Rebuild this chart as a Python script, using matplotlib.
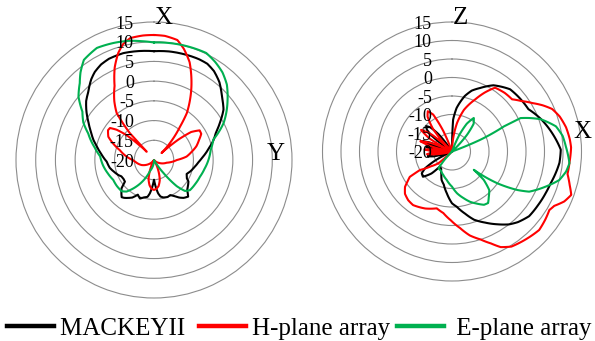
import numpy as np
import matplotlib.pyplot as plt

plt.rcParams['font.family'] = 'Liberation Serif'

# ---- left plot: X-Y plane (angle in deg, clockwise from X) ----
xy_black_ang = [0, 8, 16, 24, 29, 34, 40, 45, 50, 54, 60, 66, 72, 78, 85, 92, 100, 107, 113, 119,
                122, 127, 132, 137, 142, 146, 150, 155, 160, 166, 170, 173, 176, 180,
                184, 187, 190, 194, 200, 205, 210, 214, 218, 221, 225, 229, 233, 238, 243, 247,
                253, 260, 268, 275, 282, 288, 294, 300, 306, 311, 316, 322, 326, 331, 336, 344, 352, 360]
xy_black_db = [7.6, 7.8, 7.9, 8.0, 7.9, 7.2, 5.8, 4.2, 2.8, 1.8, -0.6, -2.8, -4.2, -5.8, -7.3, -8.6, -9.6, -10.3, -11.0, -10.5,
               -9.7, -9.2, -8.7, -7.3, -7.8, -8.5, -9.4, -10.2, -10.0, -10.2, -10.6, -11.5, -13.0, -15.0,
               -13.0, -11.5, -10.5, -10.3, -9.6, -10.3, -9.0, -8.4, -7.8, -7.5, -8.3, -9.1, -10.8, -10.9, -10.8, -10.2,
               -9.5, -8.6, -8.0, -6.8, -5.4, -3.9, -2.5, -0.8, 1.2, 2.8, 4.0, 5.9, 6.9, 7.7, 8.1, 8.2, 7.9, 7.6]

xy_red_ang = [0, 5, 11, 15, 20, 27, 31, 35, 38, 42, 47, 50, 53, 57, 61, 66, 72, 78, 84, 90,
              102, 120, 140, 150, 158, 164, 170, 175, 180, 185, 190, 196, 202, 210, 215, 230, 248, 265,
              270, 278, 286, 292, 297, 303, 306, 309, 312, 315, 318.5, 318, 321.5, 326, 332, 337, 341.5,
              345, 349, 355, 360]
xy_red_db = [11.7, 11.6, 11.0, 9.2, 6.4, 0.9, -2.3, -5.5, -9.3, -13.0, -17.4, -12.0, -8.2, -6.2, -6.3, -7.5, -8.7, -10.3, -11.7, -14.2,
             -16.7, -18.5, -20, -20, -17.0, -14.7, -13.3, -12.7, -12.4, -12.7, -13.5, -15.0, -17.5, -20, -20, -18.5, -16.6, -15.2,
             -14.6, -12.8, -11.0, -8.8, -7.0, -6.1, -6.2, -7.8, -10.5, -14.5, -17.2, -10.9, -4.8, -2.0, 1.3, 5.5, 8.6,
             10.4, 11.5, 11.7, 11.7]

xy_green_ang = [0, 6, 13, 20, 26, 32, 38, 44, 51, 56, 62, 71, 80, 90, 100, 110, 120, 130, 135, 139,
                144, 150, 180, 200, 204, 210, 216, 221, 226, 235, 244, 254, 264, 274, 282, 292, 298, 304,
                310, 316, 320, 325, 333, 341, 348, 354, 360]
xy_green_db = [9.8, 9.9, 10.0, 10.1, 10.2, 9.3, 8.2, 6.6, 4.0, 2.2, 0.0, -4.1, -5.4, -6.2, -7.0, -7.6, -7.9, -8.1, -8.9, -11.2,
               -16.0, -20, -20, -17.0, -15.4, -13.2, -11.1, -9.4, -8.6, -8.5, -8.5, -7.8, -7.0, -6.3, -4.6, -2.0, 0.3, 1.9,
               5.0, 7.1, 9.0, 11.0, 11.9, 11.4, 10.9, 10.3, 9.8]

# ---- right plot: X-Z plane (angle in deg, clockwise from Z) ----
xz_black_ang = [0, 2, 6, 13, 18, 24, 32, 43, 52, 61, 70, 80, 89, 96, 102, 108, 114, 122, 130, 137,
                142, 148, 155, 162, 168, 175, 180, 187, 194, 200, 205, 212, 219, 223, 229, 234, 238, 242, 246,
                250, 255, 259, 263, 267, 273, 277, 280, 283, 285, 287, 289.5, 292, 295,
                303, 308, 311, 314.5, 318, 322, 327, 360]
xz_black_db = [-20, -11.4, -8.2, -4.6, -2.7, -1.2, 1.1, 3.0, 3.3, 3.6, 5.6, 7.6, 9.4, 9.2, 8.6, 8.0, 7.7, 7.4, 7.2, 6.1,
               5.0, 3.2, 1.2, -0.6, -2.8, -5.0, -6.0, -8.6, -10.8, -11.8, -13.2, -14.5, -14.8, -11.9, -9.6, -9.9, -11.4, -15.0, -20,
               -20, -15.0, -13.3, -15.0, -20, -20, -14.5, -12.9, -14.5, -20, -13.5, -11.6, -13.5, -20,
               -20, -13.0, -11.0, -10.2, -11.2, -14.0, -20, -20]

xz_red_ang = [0, 5, 10, 16, 24, 29, 34, 42, 49, 54, 59, 63, 67, 72, 78, 84, 88, 95, 101, 106,
              110, 114, 118, 121, 126, 132, 140, 148, 153, 157, 162, 168, 174, 181, 188, 195, 205, 216, 222, 228,
              233, 236, 239, 240, 235, 229, 226,
              254, 261, 264, 267, 269, 271, 274, 277, 280, 284, 288, 292, 296, 300, 305, 310, 314,
              320, 325, 329, 333, 337, 340, 360]
xz_red_db = [-20, -16.5, -12.2, -8.3, -4.6, -1.8, 0.8, 1.3, 1.5, 3.2, 5.4, 7.5, 9.4, 10.6, 11.5, 12.0, 12.2, 11.9, 11.8, 13.1,
             14.3, 13.2, 11.3, 10.7, 11.2, 11.7, 11.0, 10.3, 9.0, 7.0, 5.0, 3.2, 0.8, -1.4, -3.2, -4.1, -3.0, -2.1, -2.3, -2.9,
             -4.1, -5.5, -6.7, -10.0, -13.0, -15.2, -20,
             -20, -15.0, -13.2, -15.0, -20, -15.0, -12.6, -15.0, -20, -14.0, -11.0, -14.0, -20, -13.0, -9.8, -13.0, -20,
             -12.0, -8.5, -7.3, -8.8, -14.0, -20, -20]

xz_green_ang = [0, 20, 24, 28, 33, 38, 42, 47, 70, 67.5, 64.2, 64, 66.5, 70, 76.4, 82, 87.5, 95.7, 100, 104.9,
                111, 117.5, 120.5, 125, 130, 131.8, 136, 141, 145, 149, 155, 160, 166, 173, 180, 190.6,
                200, 210, 218.6, 222, 225, 360]
xz_green_db = [-20, -20, -15.0, -11.5, -9.2, -10.5, -14.0, -20, -20, -11.7, -4.4, 0.6, 2.7, 5.5, 8.9, 10.2, 10.8, 11.9, 11.3, 10.0,
               6.8, 3.5, 0.5, -5.0, -12.3, -8.5, -5.5, -4.2, -3.0, -3.2, -4.5, -5.5, -7.0, -8.6, -10.5, -12.2,
               -13.2, -14.0, -14.2, -17.0, -20, -20]

labels = ['MACKEYII ', 'H-plane array', ' E-plane array']
rticks = [15, 10, 5, 0, -5, -10, -15, -20]
grey = '#8c8c8c'


def setup(ax):
    ax.set_theta_zero_location('N')
    ax.set_theta_direction(-1)
    ax.set_ylim(-20, 15)
    ax.set_yticks([-15, -10, -5, 0, 5, 10])
    ax.set_yticklabels([])
    ax.set_xticks([])
    ax.yaxis.grid(True, color=grey, lw=0.8)
    ax.spines['polar'].set_color(grey)
    ax.spines['polar'].set_linewidth(0.8)
    ax.patch.set_alpha(0)
    for v in rticks:
        ax.annotate(str(v), xy=(0, v), xytext=(-14.5, -1.5), textcoords='offset points',
                    ha='right', va='center', fontsize=13, annotation_clip=False)


def curve(ax, ang, db, color):
    ln, = ax.plot(np.deg2rad(ang), db, color=color, lw=1.5, solid_joinstyle='round')
    # draw each segment as a polar arc/spiral instead of a straight chord
    ln.get_path()._interpolation_steps = 40
    return ln


fig = plt.figure(figsize=(5.95, 3.41), dpi=100)
ax1 = fig.add_axes([16/595, 43/341, 276/595, 276/341], projection='polar')
ax2 = fig.add_axes([322.5/595, 60/341, 259/595, 259/341], projection='polar')
setup(ax1)
setup(ax2)

h1 = curve(ax1, xy_black_ang, xy_black_db, 'black')
h2 = curve(ax1, xy_red_ang, xy_red_db, '#ff0000')
h3 = curve(ax1, xy_green_ang, xy_green_db, '#00b050')

curve(ax2, xz_black_ang, xz_black_db, 'black')
curve(ax2, xz_red_ang, xz_red_db, '#ff0000')
curve(ax2, xz_green_ang, xz_green_db, '#00b050')

fig.text(163/595, 1 - 18/341, 'X', fontsize=18, ha='center', va='center')
fig.text(276/595, 1 - 154/341, 'Y', fontsize=18, ha='center', va='center')
fig.text(460/595, 1 - 18/341, 'Z', fontsize=18, ha='center', va='center')
fig.text(582/595, 1 - 132/341, 'X', fontsize=18, ha='center', va='center')

leg = fig.legend([h1, h2, h3], labels, loc='center', bbox_to_anchor=(0.503, 0.036), ncol=3,
                 frameon=False, fontsize=18, handlelength=1.88, handletextpad=0.24,
                 columnspacing=0.3, borderaxespad=0, borderpad=0)
for line in leg.get_lines():
    line.set_linewidth(3.2)

fig.savefig('out.png', dpi=100)
